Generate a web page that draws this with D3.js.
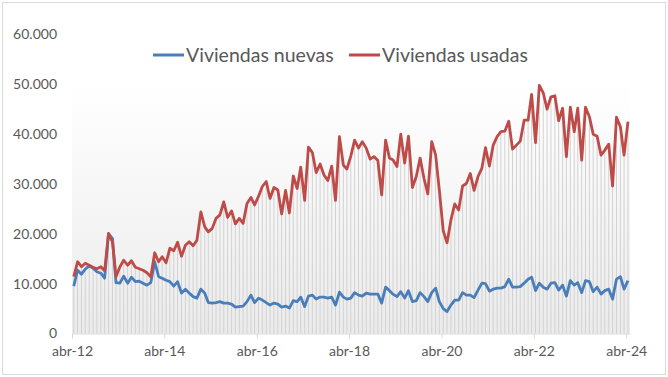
<!DOCTYPE html>
<html>
<head>
<meta charset="utf-8">
<script src="https://cdn.jsdelivr.net/npm/d3@7"></script>
<style>
  body { margin: 0; background: #ffffff; }
  text { font-family: Lato, "Open Sans", sans-serif; fill: #595959; }
</style>
</head>
<body>
<div id="chart"></div>
<script>
// Compraventa de viviendas, mensual abr-12 .. abr-24
var startYear = 2012;
var startMonth = 3; // abril (0 = enero)

var seriesNames = ["Viviendas nuevas", "Viviendas usadas"];
var seriesColors = ["#4a7ebb", "#be4b48"];

var nuevas = [
  9500, 12700, 11900, 12900, 13600, 13100, 12400, 12100, 11100, 20000, 19100, 10200,
  10100, 11500, 10100, 11300, 10400, 10500, 10100, 9700, 10200, 14400, 11400, 11100,
  10700, 10400, 9500, 10400, 8100, 8900, 8100, 7400, 7100, 8900, 8100, 6200,
  6100, 6200, 6400, 6100, 6100, 5900, 5300, 5400, 5500, 6400, 7700, 6200,
  7100, 6700, 6200, 5700, 6100, 5900, 5300, 5500, 5100, 6600, 6400, 7300,
  5400, 7500, 7700, 6900, 7300, 7300, 7100, 7300, 5700, 8300, 7300, 6900,
  7100, 8200, 7700, 7500, 8100, 7900, 7900, 7900, 6100, 9300, 8600, 7900,
  7400, 8400, 7100, 8600, 6400, 6600, 8200, 7400, 6400, 8200, 9100, 6400,
  5000, 4400, 5700, 6700, 6700, 8200, 7700, 7700, 7200, 8700, 10100, 10000,
  8500, 8900, 9100, 9100, 9400, 10900, 9300, 9300, 9400, 10100, 10900, 11300,
  8600, 10100, 9300, 8900, 10100, 10200, 8700, 9700, 7500, 10600, 9700, 10200,
  8200, 10600, 10400, 8400, 9300, 7900, 8600, 8900, 6900, 10900, 11400, 8900,
  10600
];

var usadas = [
  11400, 14400, 13400, 14100, 13700, 13300, 13000, 13400, 12600, 20100, 18400, 11400,
  13400, 14700, 13700, 14600, 13300, 13000, 12700, 12200, 11400, 16200, 14400, 15400,
  14200, 17100, 16600, 18300, 15500, 17700, 18400, 17600, 18700, 24400, 21400, 20400,
  21100, 23100, 23800, 26400, 23300, 24600, 22000, 23100, 22100, 26100, 27300, 25800,
  27500, 29500, 30500, 27100, 29300, 28800, 24000, 28700, 24200, 31600, 29100, 33400,
  26700, 37400, 36300, 32300, 34000, 31800, 30700, 33600, 26700, 39500, 33800, 33000,
  35600, 38800, 37200, 38500, 37200, 35000, 35500, 34700, 27800, 38800, 35200, 34800,
  33500, 40000, 34200, 39600, 29300, 31500, 35200, 31100, 28000, 38500, 35800, 28800,
  20600, 18200, 22800, 26000, 24800, 29600, 30100, 32100, 28700, 31500, 33200, 37300,
  33600, 37800, 39500, 40500, 40600, 42600, 37000, 37800, 38600, 42800, 42800, 48000,
  38300, 49800, 48300, 45000, 47500, 47700, 42700, 45200, 35500, 45400, 40500, 45200,
  34800, 45400, 43500, 40000, 39600, 35800, 36800, 38000, 29600, 43400, 41500, 35800,
  42500
];

var yTicks = [0, 10000, 20000, 30000, 40000, 50000, 60000];
var xTickYears = [2012, 2014, 2016, 2018, 2020, 2022, 2024];

var svgWidth = 668;
var svgHeight = 377;

var svg = d3.select("#chart")
  .append("svg")
  .attr("width", svgWidth)
  .attr("height", svgHeight);

// outer border
svg.append("rect")
  .attr("x", 2.5)
  .attr("y", 2.5)
  .attr("width", 663)
  .attr("height", 372)
  .attr("fill", "#ffffff")
  .attr("stroke", "#d9d9d9");

// one point per month, plotted mid-month
var data = nuevas.map(function(v, i) {
  return {
    date: new Date(startYear, startMonth + i, 15),
    nuevas: v,
    usadas: usadas[i]
  };
});

var x = d3.scaleTime()
  .domain([new Date(startYear, startMonth, 1), new Date(startYear, startMonth + data.length, 1)])
  .range([72, 630]);

var y = d3.scaleLinear()
  .domain([0, 60000])
  .range([333.5, 34.5]);

// plot area gradient
var grad = svg.append("defs").append("linearGradient")
  .attr("id", "plotGrad")
  .attr("x1", 0).attr("y1", 0)
  .attr("x2", 0).attr("y2", 1);
grad.append("stop").attr("offset", "0%").attr("stop-color", "#ffffff");
grad.append("stop").attr("offset", "100%").attr("stop-color", "#ebebeb");

svg.append("rect")
  .attr("x", x.range()[0])
  .attr("y", y(50000))
  .attr("width", x.range()[1] - x.range()[0])
  .attr("height", y(0) - y(50000))
  .attr("fill", "url(#plotGrad)");

// drop lines
svg.append("g")
  .selectAll("line")
  .data(data)
  .enter()
  .append("line")
  .attr("x1", d => x(d.date))
  .attr("x2", d => x(d.date))
  .attr("y1", d => y(Math.max(d.nuevas, d.usadas)))
  .attr("y2", y(0))
  .attr("stroke", "#d2d2d2")
  .attr("stroke-width", 1);

// x axis
var fmtSpanish = d3.formatLocale({ decimal: ",", thousands: ".", grouping: [3], currency: ["", " €"] });
var bottomAxis = d3.axisBottom(x)
  .tickValues(xTickYears.map(yr => new Date(yr, startMonth, 1)))
  .tickFormat(d => "abr-" + String(d.getFullYear()).slice(2))
  .tickSizeInner(5)
  .tickSizeOuter(0)
  .tickPadding(8);

var xAxis = svg.append("g")
  .attr("transform", `translate(0, ${y(0)})`)
  .call(bottomAxis);
xAxis.select(".domain").attr("stroke", "#d9d9d9");
xAxis.selectAll(".tick line").attr("stroke", "#d9d9d9");
xAxis.selectAll("text")
  .attr("font-size", "14px")
  .attr("font-family", "Lato, sans-serif")
  .attr("fill", "#595959");

// y axis (labels only)
var leftAxis = d3.axisLeft(y)
  .tickValues(yTicks)
  .tickFormat(fmtSpanish.format(","))
  .tickSize(0)
  .tickPadding(15);

var yAxis = svg.append("g")
  .attr("transform", `translate(${x.range()[0]}, 0)`)
  .call(leftAxis);
yAxis.select(".domain").remove();
yAxis.selectAll("text")
  .attr("font-size", "14px")
  .attr("font-family", "Lato, sans-serif")
  .attr("fill", "#595959");

// lines
var keys = ["nuevas", "usadas"];
keys.forEach(function(k, i) {
  var line = d3.line()
    .x(d => x(d.date))
    .y(d => y(d[k]));
  svg.append("path")
    .datum(data)
    .attr("d", line)
    .attr("fill", "none")
    .attr("stroke", seriesColors[i])
    .attr("stroke-width", 2.8)
    .attr("stroke-linejoin", "round");
});

// legend
var legendX = [153, 349];
seriesNames.forEach(function(name, i) {
  var g = svg.append("g").attr("transform", `translate(${legendX[i]}, 55)`);
  g.append("line")
    .attr("x1", 0).attr("x2", 31)
    .attr("y1", 0).attr("y2", 0)
    .attr("stroke", seriesColors[i])
    .attr("stroke-width", 3);
  g.append("text")
    .attr("x", 33)
    .attr("y", 7)
    .attr("font-size", "19.5px")
    .text(name);
});
</script>
</body>
</html>
